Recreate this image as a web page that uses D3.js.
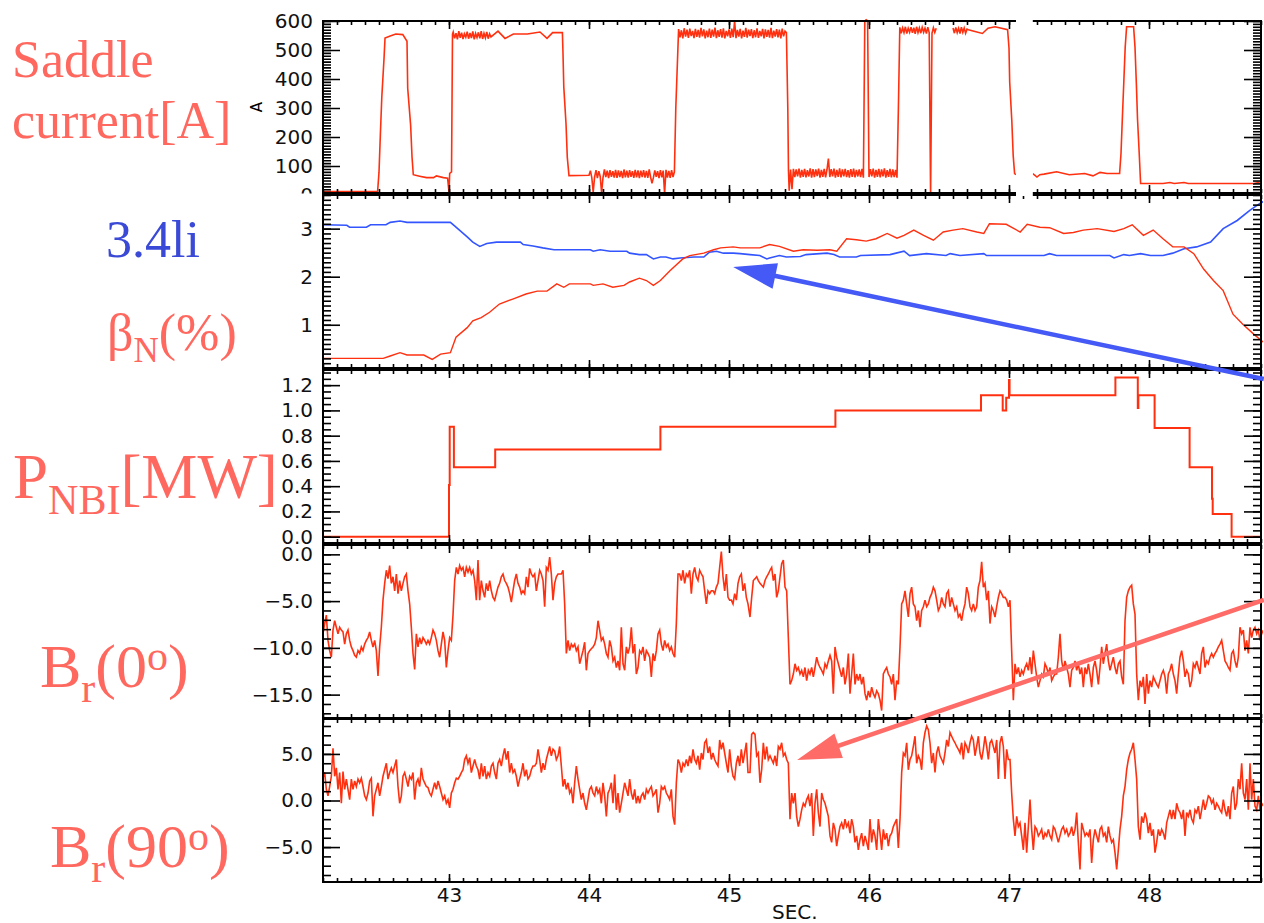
<!DOCTYPE html>
<html><head><meta charset="utf-8">
<script src="https://cdn.jsdelivr.net/npm/d3@7"></script>
<style>body{margin:0;background:#fff}svg{display:block}</style>
</head><body>
<script>
// ---------------- DATA ----------------
// x axis
const xTickValues = [43, 44, 45, 46, 47, 48];
const xTickLabels = ["43", "44", "45", "46", "47", "48"];
const xTitle = "SEC.";

// y tick values per panel
const saddleTicks = [0, 100, 200, 300, 400, 500, 600];
const liTicks = [1, 2, 3];
const nbiTicks = [0, 0.2, 0.4, 0.6, 0.8, 1.0, 1.2];
const br0Ticks = [0, -5, -10, -15];
const br90Ticks = [-5, 0, 5];

// Saddle current [A]: [time, A] pieces and densely sampled noisy pieces (step 0.01 s)
const saddleP1 = [[42.1,12],[42.49,12],[42.5,78],[42.51,212],[42.52,337],[42.536,472],[42.543,541],[42.58,548],[42.62,555],[42.67,553],[42.70,530],[42.705,368],[42.726,240],[42.736,130],[42.745,70],[42.79,65],[42.84,60],[42.89,60],[42.91,66],[42.96,60],[42.99,58],[43.0,10],[43.005,75],[43.018,80],[43.025,555]];
const saddleN1 = [562,540,558,537,565,542,560,538,556,544,563,539,559,541,564,537,557,543,561,540,565,538,558,542,562,539,556,545];
const saddleP2 = [[43.35,565],[43.40,540],[43.46,555],[43.56,555],[43.65,562],[43.70,540],[43.74,560],[43.81,560],[43.814,493],[43.82,372],[43.836,244],[43.845,130],[43.857,67],[44.0,68]];
const saddleN2 = [84,60,10,62,86,58,82,64,8,60,88,62,84,58,86,63,82,60,87,59,85,62,83,58,88,61,84,60,86,63,82,59,87,61,85,58,84,62,86,60,83,59,88,62,40,60,85,63,82,58,86,61,84,5,87,60,83,59,86,62,80];
const saddleP3 = [[44.62,300]];
const saddleN3 = [572,544,568,540,575,546,570,542,574,548,566,541,573,545,569,543,576,547,571,540,567,544,574,542,570,546,577,541,568,545,572,543,575,540,566,547,571,542,574,544,600,541,569,546,573,540,567,545,576,543,570,548,572,541,568,544,575,542,566,547,573,540,571,545,569,543,576,541,567,546,572,544,570,540,574,547,565];
const saddleP4 = [[45.41,560],[45.42,300],[45.425,80]];
const saddleN4 = [15,88,20,90,62,88,64,91,60,87,63,90,61,86,64,92,60,89,62,88,65,91,60,87,63,90,61,88,126,62,89,64,91,60,87,63,92,61,88,64,90,62,86,60,89,63,91,61,87,64,88,62,90,60,600,604,600,62,89,64,91,60,87,63,90,61,88,64,92,60,86,63,90,61,88,62,87,60];
const saddleP5 = [[46.21,300]];
const saddleN5 = [578,558,576,560,580,557,575,561,579,559,577,556,580,560,576,558,578,561,575,557,579,560,0,558,577,561,575];
const saddleN6 = [576,558,578,560,575,557,579,561,576,558,572];
const saddleP6 = [[46.71,570],[46.75,565],[46.81,557],[46.85,575],[46.9,580],[46.99,570],[47.0,507],[47.005,389],[47.02,257],[47.03,136],[47.04,74],[47.05,70]];
const saddleGap = [47.05, 47.17];
const saddleP7 = [[47.17,74],[47.2,62],[47.22,70],[47.25,72],[47.34,80],[47.43,70],[47.54,74],[47.6,66],[47.65,78],[47.7,74],[47.79,74],[47.8,143],[47.81,269],[47.82,389],[47.83,510],[47.84,580],[47.89,580],[47.9,510],[47.91,380],[47.918,262],[47.93,145],[47.94,40],[48.1,40],[48.15,43],[48.18,40],[48.25,43],[48.28,40],[48.75,40],[48.78,43],[48.8,40]];

// 3.4 li (blue) and beta_N (%) (red): [time, value]
const li34 = [[42.10,3.08],[42.27,3.07],[42.29,3.03],[42.41,3.03],[42.44,3.08],[42.55,3.08],[42.58,3.13],[42.65,3.16],[42.70,3.13],[43.01,3.13],[43.05,3.03],[43.13,2.83],[43.17,2.72],[43.22,2.63],[43.27,2.69],[43.34,2.72],[43.51,2.72],[43.53,2.67],[43.60,2.64],[43.67,2.60],[43.75,2.56],[44.01,2.56],[44.03,2.53],[44.08,2.56],[44.15,2.53],[44.27,2.53],[44.29,2.49],[44.36,2.46],[44.41,2.46],[44.46,2.37],[44.51,2.41],[44.55,2.41],[44.60,2.37],[44.65,2.39],[44.75,2.41],[44.82,2.41],[44.86,2.51],[44.91,2.53],[44.96,2.49],[45.03,2.49],[45.08,2.48],[45.15,2.46],[45.22,2.44],[45.27,2.37],[45.29,2.39],[45.36,2.44],[45.41,2.41],[45.51,2.42],[45.55,2.46],[45.70,2.49],[45.75,2.46],[45.79,2.41],[45.91,2.41],[45.94,2.44],[46.15,2.46],[46.25,2.53],[46.29,2.44],[46.41,2.48],[46.55,2.44],[46.58,2.48],[46.65,2.44],[46.82,2.48],[46.84,2.44],[47.25,2.44],[47.29,2.48],[47.34,2.44],[47.72,2.44],[47.75,2.39],[47.82,2.46],[47.86,2.44],[47.94,2.48],[48.01,2.44],[48.10,2.44],[48.17,2.49],[48.25,2.58],[48.34,2.62],[48.44,2.72],[48.53,3.0],[48.63,3.17],[48.72,3.38],[48.79,3.52],[48.82,3.57]];
const betaN = [[42.10,0.30],[42.53,0.30],[42.58,0.35],[42.65,0.42],[42.70,0.37],[42.82,0.37],[42.88,0.28],[42.94,0.39],[43.01,0.42],[43.05,0.74],[43.13,0.94],[43.17,1.08],[43.23,1.15],[43.29,1.26],[43.36,1.43],[43.46,1.54],[43.55,1.64],[43.63,1.70],[43.70,1.70],[43.77,1.85],[43.82,1.78],[43.86,1.85],[44.01,1.85],[44.03,1.82],[44.10,1.85],[44.17,1.78],[44.25,1.82],[44.29,1.89],[44.36,1.97],[44.41,1.92],[44.46,1.82],[44.51,1.92],[44.58,2.13],[44.67,2.37],[44.72,2.44],[44.82,2.49],[44.89,2.56],[44.94,2.60],[45.03,2.62],[45.08,2.60],[45.22,2.60],[45.29,2.67],[45.36,2.63],[45.46,2.53],[45.53,2.56],[45.63,2.55],[45.72,2.56],[45.77,2.53],[45.84,2.79],[45.91,2.77],[45.98,2.74],[46.05,2.79],[46.13,2.90],[46.20,2.80],[46.25,2.86],[46.32,2.97],[46.39,2.86],[46.46,2.76],[46.53,2.93],[46.60,2.97],[46.67,3.0],[46.77,2.93],[46.82,2.90],[46.86,3.10],[46.98,3.09],[47.08,2.93],[47.13,3.09],[47.22,3.03],[47.29,3.02],[47.39,2.90],[47.46,2.92],[47.53,2.97],[47.63,3.0],[47.75,2.94],[47.82,3.0],[47.88,3.08],[47.96,2.86],[48.03,2.97],[48.10,2.79],[48.17,2.62],[48.25,2.62],[48.32,2.48],[48.39,2.16],[48.46,1.92],[48.53,1.71],[48.60,1.22],[48.67,1.01],[48.75,0.80],[48.82,0.63]];

// P_NBI [MW] step trace: [time, MW] (value holds until next time)
const pnbi = [[42.1,0],[43.0,0.41],[43.005,0.87],[43.035,0.55],[43.33,0.69],[44.51,0.87],[45.76,1.0],[46.8,1.12],[46.955,1.0],[46.98,1.1],[47.0,1.24],[47.004,1.12],[47.76,1.26],[47.92,1.02],[47.924,1.12],[48.04,0.86],[48.29,0.55],[48.45,0.3],[48.455,0.18],[48.59,0.0],[48.8,0.0]];

// Br(0) and Br(90): uniformly sampled (step 1/84 s), two pieces each
const brStep = 1 / 84;
const br0Start = [42.1, 45.15];
const br0A = [-8.5,-7.4,-6.5,-9.2,-10.3,-11.0,-8.1,-7.1,-7.8,-8.5,
-7.8,-8.1,-8.3,-9.6,-8.5,-8.1,-9.2,-9.9,-10.3,-10.8,
-11.0,-10.3,-10.6,-9.9,-10.3,-9.6,-9.2,-8.9,-8.3,-9.2,
-9.9,-9.2,-10.3,-13.0,-9.9,-7.8,-4.9,-3.1,-1.7,-2.6,
-1.2,-3.1,-2.4,-3.9,-2.1,-4.2,-2.8,-3.9,-3.1,-2.4,
-2.1,-3.9,-5.3,-7.8,-10.6,-12.3,-8.5,-9.9,-8.9,-9.6,
-8.9,-9.2,-9.6,-9.2,-9.6,-8.9,-8.1,-8.5,-9.2,-10.3,
-11.0,-9.6,-8.3,-9.2,-12.1,-10.3,-8.9,-9.2,-6.5,-2.8,
-1.4,-2.1,-1.2,-1.7,-1.4,-2.4,-1.4,-1.9,-1.4,-2.1,
-1.7,-2.8,-4.9,-0.6,-4.9,-2.8,-3.9,-4.6,-3.1,-3.9,
-2.8,-3.9,-4.6,-4.9,-4.2,-3.5,-3.1,-2.4,-2.1,-2.8,
-3.1,-3.5,-4.2,-5.1,-3.9,-2.8,-2.1,-3.1,-3.5,-4.2,
-3.9,-4.2,-2.4,-3.5,-1.5,-2.1,-2.4,-2.1,-3.9,-2.8,
-1.7,-2.1,-2.8,-5.6,-1.4,-1.7,-0.3,-2.1,-4.9,-3.1,
-2.4,-2.1,-2.1,-2.1,-1.7,-5.3,-10.6,-9.2,-10.3,-9.6,
-9.9,-9.6,-10.3,-9.9,-11.7,-11.0,-10.3,-9.4,-12.4,-10.6,
-10.3,-10.1,-9.9,-9.6,-8.9,-7.1,-8.1,-9.2,-8.9,-9.6,
-10.6,-11.0,-9.2,-9.9,-11.4,-11.0,-12.1,-11.4,-12.4,-7.8,
-11.7,-12.4,-9.9,-10.6,-9.9,-7.8,-10.6,-9.6,-12.8,-12.1,
-10.3,-10.6,-9.9,-11.4,-10.3,-10.6,-11.0,-13.1,-10.6,-11.4,
-10.3,-8.5,-8.1,-9.6,-10.3,-9.2,-9.9,-9.6,-10.3,-9.9,
-10.6,-11.0,-7.4,-2.1,-2.1,-2.8,-1.7,-3.1,-2.1,-2.4,
-1.7,-4.2,-2.1,-1.4,-2.4,-2.8,-1.7,-2.1,-2.4,-3.9,
-5.3,-3.9,-4.2,-3.9,-3.9,-4.2,-3.5,-3.1,-1.4,0.3,
-2.4,-3.9,-2.1,-4.6,-4.9,-4.9,-5.3,-4.2,-4.9,-3.1,
-2.4,-2.1,-3.9,-3.1,-4.6,-5.3];
const br0B = [-6.7,-4.6,-2.8,-2.6,-2.4,-2.8,-3.1,-3.3,-3.5,-2.8,
-2.4,-2.1,-1.7,-1.4,-2.8,-2.1,-4.6,-3.9,-2.4,-1.0,
-0.6,-3.5,-3.9,-8.9,-13.9,-13.5,-12.8,-11.7,-12.4,-12.1,
-12.8,-12.4,-13.1,-12.1,-13.5,-12.4,-12.8,-12.1,-13.1,-12.1,
-11.0,-11.7,-12.1,-12.4,-12.8,-11.7,-12.1,-11.4,-10.8,-11.4,
-14.9,-9.9,-11.0,-11.7,-12.4,-13.1,-12.1,-13.9,-12.8,-10.6,
-14.9,-12.8,-10.6,-13.9,-12.8,-13.5,-12.8,-13.9,-13.1,-14.9,
-15.6,-14.6,-15.3,-14.2,-14.9,-15.3,-14.6,-14.9,-15.6,-16.7,
-12.8,-12.4,-12.1,-12.8,-13.1,-13.9,-12.8,-15.6,-13.5,-13.9,
-9.9,-5.3,-4.9,-3.9,-5.3,-6.7,-4.2,-3.5,-5.3,-5.6,
-7.1,-6.0,-7.8,-6.0,-5.6,-4.9,-5.6,-5.3,-4.6,-4.2,
-3.5,-3.9,-4.9,-6.0,-5.6,-4.6,-5.3,-5.6,-4.2,-3.9,
-5.6,-4.6,-5.3,-6.0,-5.6,-6.7,-6.4,-7.1,-6.0,-5.3,
-3.5,-4.2,-5.6,-6.0,-5.3,-6.0,-5.6,-3.5,-2.8,-0.8,
-3.5,-3.1,-4.9,-3.9,-7.4,-5.6,-6.0,-6.7,-5.6,-4.6,
-3.9,-4.2,-4.6,-4.6,-4.9,-5.6,-4.9,-10.3,-15.6,-11.7,
-12.8,-12.1,-13.1,-12.4,-12.8,-12.1,-11.7,-12.4,-11.0,-12.8,
-10.3,-11.7,-13.1,-14.2,-13.5,-12.8,-13.1,-11.7,-12.1,-12.8,
-12.1,-13.5,-13.1,-12.8,-12.8,-11.0,-8.5,-11.4,-12.4,-11.4,
-12.1,-12.8,-14.2,-12.4,-12.1,-11.4,-12.4,-11.7,-12.8,-12.1,
-14.2,-12.1,-12.8,-11.7,-12.8,-14.2,-12.1,-11.4,-12.4,-13.9,
-12.1,-9.9,-11.7,-10.6,-9.6,-11.4,-12.4,-11.7,-11.0,-12.1,
-12.8,-11.7,-11.4,-13.1,-13.9,-7.1,-4.6,-3.9,-3.5,-3.3,
-5.3,-6.4,-12.8,-15.6,-13.5,-14.2,-13.1,-16.0,-12.8,-14.9,
-13.5,-14.2,-13.1,-13.5,-13.9,-14.2,-13.5,-12.8,-12.4,-13.1,
-14.9,-12.8,-12.4,-11.7,-12.8,-13.5,-14.9,-12.8,-11.0,-10.3,
-11.4,-13.1,-12.4,-12.8,-14.2,-13.5,-11.7,-12.1,-11.4,-12.1,
-12.8,-10.6,-9.9,-12.1,-11.4,-11.7,-11.0,-10.6,-11.0,-10.6,
-10.3,-9.9,-9.6,-9.2,-10.3,-11.4,-11.7,-12.1,-12.4,-10.6,
-10.3,-11.4,-12.1,-11.0,-7.8,-8.5,-8.1,-10.3,-9.2,-10.6,
-7.8,-8.9,-8.1,-7.8,-8.5,-8.1,-9.2,-8.5,-8.1];
const br90Start = [42.1, 45.15];
const br90A = [2.4,3.0,1.2,0.5,1.5,2.6,5.6,2.6,3.5,1.2,
3.0,-0.3,3.1,1.2,2.3,1.2,0.1,2.3,1.2,2.1,
1.5,2.3,1.9,2.4,1.5,0.5,0.1,0.8,2.1,2.4,
-1.7,0.5,1.2,1.9,0.5,1.5,2.6,3.3,4.0,2.3,
3.0,3.5,3.0,3.7,4.4,1.5,-0.3,0.5,2.6,3.0,
2.3,1.5,2.6,2.3,3.0,0.1,1.9,2.3,1.5,3.5,
2.3,1.9,1.5,1.4,0.8,0.5,1.2,1.9,1.2,2.1,
1.5,0.8,0.1,0.5,-0.3,0.1,-0.8,0.8,1.2,1.9,
2.4,2.3,2.6,3.0,3.3,4.4,4.8,4.0,4.6,3.0,
3.7,4.4,3.7,3.3,2.3,4.0,2.6,3.7,2.3,3.0,
2.6,3.7,4.0,3.0,2.3,4.0,4.4,3.7,4.8,5.6,
4.4,5.3,3.0,4.0,3.0,3.3,2.6,1.5,2.3,3.0,
4.0,2.6,3.3,2.3,2.6,3.3,3.7,3.7,4.0,5.5,
4.4,3.0,4.0,3.3,4.4,5.1,5.8,4.8,5.5,5.3,
4.4,4.8,5.8,3.7,1.5,2.3,1.2,1.9,0.8,1.2,
-0.3,1.9,3.7,2.3,1.2,0.1,0.8,-0.3,-1.0,0.1,
1.2,1.5,0.8,0.5,1.5,0.8,1.2,-0.3,1.9,0.5,
-1.7,0.8,1.2,1.9,-0.3,2.8,-1.0,0.8,-1.3,-0.3,
0.8,1.9,1.2,0.5,2.3,0.8,0.1,1.2,-0.3,0.5,
-0.3,0.5,0.8,0.1,1.2,0.8,1.2,1.5,0.5,0.8,
1.2,-1.3,-0.3,1.5,1.2,1.5,0.8,0.5,0.1,1.2,
-1.7,-2.6,1.9,4.4,4.0,3.0,4.0,3.7,4.4,3.7,
4.8,4.0,5.5,4.4,4.0,4.8,3.3,5.1,4.4,6.2,
6.5,5.1,5.8,4.4,5.1,4.4,4.0,3.7,6.5,5.5,
6.2,5.1,4.0,3.0,5.5,3.7,2.6,2.3,4.0,4.8,
3.7,5.5,4.0,5.1,6.2,3.0];
const br90B = [3.0,7.1,7.3,7.1,4.8,5.1,1.9,3.3,6.2,4.4,
5.8,4.4,4.8,4.4,4.0,4.8,3.7,5.8,5.5,6.2,
4.8,5.1,4.4,4.0,-2.0,0.8,-0.3,0.8,-1.7,-2.8,
-2.0,-1.0,-0.3,-0.6,0.1,0.5,-0.6,0.8,-3.8,-0.3,
1.2,-1.3,-2.8,0.8,0.1,-0.3,-1.0,-1.7,-3.8,-4.5,
-2.4,-3.1,-4.9,-3.8,-2.8,-2.4,-3.1,-2.0,-2.8,-2.4,
-3.5,-2.0,-2.8,-4.5,-3.8,-5.3,-4.2,-3.5,-4.9,-3.8,
-4.5,-5.3,-2.0,-4.5,-3.1,-3.8,-5.3,-2.0,-3.5,-5.3,
-3.1,-4.2,-3.5,-4.9,-3.8,-3.5,-2.8,-2.4,-2.0,-5.1,
-2.0,3.0,5.1,4.8,6.2,3.3,4.4,4.8,5.8,6.9,
4.0,4.8,4.4,3.3,6.2,7.3,8.0,7.6,6.2,4.0,
5.1,3.0,5.1,5.8,4.8,4.4,4.0,5.1,6.5,5.8,
7.3,6.9,6.5,6.2,5.8,5.5,5.1,6.2,4.4,6.2,
5.8,5.1,6.2,6.9,6.5,4.8,5.8,6.9,5.1,4.4,
5.5,6.9,5.8,4.4,6.2,6.5,5.8,5.1,6.5,2.3,
6.2,6.9,5.8,2.3,5.5,4.4,4.4,0.8,-2.0,-3.8,
-1.7,-2.8,-2.4,-3.8,-5.3,-2.4,-5.6,-2.8,0.1,-3.1,
-5.3,-2.8,-3.1,-3.8,-3.5,-3.1,-4.2,-3.5,-3.8,-3.1,
-3.8,-4.2,-2.8,-3.1,-3.8,-4.5,-3.8,-3.1,-2.8,-3.5,
-3.1,-3.8,-3.5,-2.8,-3.8,-3.1,-1.3,-4.5,-7.4,-2.4,
-3.1,-3.8,-3.5,-3.8,-3.1,-6.7,-4.2,-3.1,-3.8,-4.5,
-3.1,-2.8,-3.8,-3.5,-4.5,-2.8,-3.8,-4.5,-4.2,-5.6,
-7.4,-5.3,-3.1,-1.7,0.5,1.5,3.3,4.4,5.1,5.5,
6.2,4.4,2.3,-2.8,-4.2,-1.7,-2.4,-1.3,-2.0,-3.5,
-2.4,-3.8,-3.1,-5.6,-4.5,-3.1,-3.8,-3.1,-3.5,-4.2,
-2.4,-1.7,-1.0,-2.0,-1.0,-2.0,-0.3,-1.0,-1.3,-2.0,
-1.0,-3.8,-1.3,-1.7,-1.0,-2.0,-2.4,-1.0,-1.3,-0.6,
-2.0,-1.0,0.1,-1.0,-0.3,0.5,0.3,-0.3,0.1,-1.0,
-0.3,-0.6,-1.0,-1.3,0.1,-1.0,-1.7,-0.6,-2.0,0.8,
1.5,-1.0,-0.3,2.3,1.2,4.0,0.8,0.1,2.3,-1.0,
4.0,0.1,2.3,-0.6,-1.0,0.5,-1.0,-0.3,-0.6];

// annotation arrows (tail -> tip) in data units of the panel named
const blueArrow = [[48.82, -0.13], [45.03, 2.20]];   // in 3.4li / beta_N panel units
const pinkArrow = [[48.82, 21.53], [45.486, 4.35]];  // in Br(90) panel units

// ---------------- DRAWING ----------------
const W = 1264, H = 923;
const RED = "#ff3010", BLUE = "#3355ff", SALMON = "#ff685f";
const TICKFONT = "'DejaVu Sans', sans-serif";
const SERIF = "'Liberation Serif','Times New Roman',serif";

const svg = d3.select("body").append("svg").attr("width", W).attr("height", H);
const x = d3.scaleLinear().domain([42.1, 48.8]).range([323, 1261]);
const seg = (t0, dt, vals) => vals.map((v, i) => [t0 + i * dt, v]);
const fmt1 = d => (d < 0 ? "\u2212" : "") + Math.abs(d).toFixed(1);

const saddle = [].concat(saddleP1, seg(43.03, 0.01, saddleN1), saddleP2, seg(44.01, 0.01, saddleN2),
  saddleP3, seg(44.64, 0.01, saddleN3), saddleP4, seg(45.43, 0.01, saddleN4), saddleP5,
  seg(46.22, 0.01, saddleN5), [null], seg(46.60, 0.01, saddleN6), saddleP6, [null], saddleP7);
const br0 = seg(br0Start[0], brStep, br0A).concat(seg(br0Start[1], brStep, br0B));
const br90 = seg(br90Start[0], brStep, br90A).concat(seg(br90Start[1], brStep, br90B));

const panels = [
  {top: 21, bottom: 193, domain: [7, 600], major: saddleTicks, minor: d3.range(10, 601, 10), fmt: d => String(d), clipLabels: true,
   series: [{data: saddle, color: RED, w: 1.6}]},
  {top: 195, bottom: 368, domain: [0.1, 3.7], major: liTicks, minor: d3.range(1, 38).map(i => i / 10), fmt: d => String(d),
   series: [{data: li34, color: BLUE, w: 1.6}, {data: betaN, color: RED, w: 1.4}]},
  {top: 370, bottom: 543, domain: [-0.05, 1.32], major: nbiTicks, minor: d3.range(0, 27).map(i => i * 0.05), fmt: fmt1,
   series: [{data: pnbi, color: RED, w: 2, step: true}]},
  {top: 545, bottom: 718, domain: [-17.5, 1], major: br0Ticks, minor: d3.range(-17, 1), fmt: fmt1,
   series: [{data: br0, color: RED, w: 1.6}]},
  {top: 719, bottom: 882, domain: [-8.75, 8.75], major: br90Ticks, minor: d3.range(-8, 9), fmt: fmt1, xLabels: true,
   series: [{data: br90, color: RED, w: 1.6}]}
];

const defs = svg.append("defs");
const xMinor = d3.range(421, 489).map(i => i / 10);
const x0 = x.range()[0], x1 = x.range()[1];

panels.forEach((p, i) => {
  p.y = d3.scaleLinear().domain(p.domain).range([p.bottom, p.top]);
  const y = p.y;
  defs.append("clipPath").attr("id", "clip" + i).append("rect")
    .attr("x", x0).attr("y", p.top - 4).attr("width", x1 - x0 + 2).attr("height", p.bottom - p.top + 8);

  // traces
  const gData = svg.append("g").attr("clip-path", `url(#clip${i})`);
  p.series.forEach(s => {
    const ln = d3.line().defined(d => d !== null).x(d => x(d[0])).y(d => y(d[1]));
    if (s.step) ln.curve(d3.curveStepAfter);
    gData.append("path").datum(s.data).attr("d", ln).attr("fill", "none")
      .attr("stroke", s.color).attr("stroke-width", s.w).attr("stroke-linejoin", "miter");
  });

  // axes
  const gAx = svg.append("g");
  const left = gAx.append("g").attr("transform", `translate(${x0},0)`);
  if (p.clipLabels) {
    defs.append("clipPath").attr("id", "lclip" + i).append("rect")
      .attr("x", -x0).attr("y", 0).attr("width", W).attr("height", p.bottom + 0.5);
    left.attr("clip-path", `url(#lclip${i})`);
  }
  left.append("g").call(d3.axisLeft(y).tickValues(p.minor).tickSize(-8).tickSizeOuter(0).tickFormat(""));
  left.append("g").call(d3.axisLeft(y).tickValues(p.major).tickSize(-17).tickSizeOuter(0).tickPadding(10).tickFormat(p.fmt));
  const right = gAx.append("g").attr("transform", `translate(${x1},0)`);
  right.append("g").call(d3.axisRight(y).tickValues(p.minor.filter(v => v >= p.domain[0] && v <= p.domain[1])).tickSize(-8).tickSizeOuter(0).tickFormat(""));
  right.append("g").call(d3.axisRight(y).tickValues(p.major.filter(v => v >= p.domain[0] && v <= p.domain[1])).tickSize(-17).tickSizeOuter(0).tickFormat(""));
  const topAx = gAx.append("g").attr("transform", `translate(0,${p.top})`);
  topAx.append("g").call(d3.axisTop(x).tickValues(xMinor).tickSize(-4).tickSizeOuter(0).tickFormat(""));
  topAx.append("g").call(d3.axisTop(x).tickValues(xTickValues).tickSize(-8).tickSizeOuter(0).tickFormat(""));
  const botAx = gAx.append("g").attr("transform", `translate(0,${p.bottom})`);
  botAx.append("g").call(d3.axisBottom(x).tickValues(xMinor).tickSize(-4).tickSizeOuter(0).tickFormat(""));
  botAx.append("g").call(d3.axisBottom(x).tickValues(xTickValues).tickSize(-8).tickSizeOuter(0).tickPadding(6)
    .tickFormat(p.xLabels ? ((d, k) => xTickLabels[k]) : ""));
  gAx.selectAll(".domain").remove();
  gAx.selectAll(".tick line").attr("stroke", "#000").attr("stroke-width", 1.6);
  gAx.selectAll("text").attr("font-family", TICKFONT).attr("font-size", 20).attr("fill", "#111");

  // frame
  svg.append("rect").attr("x", x0).attr("y", p.top).attr("width", x1 - x0).attr("height", p.bottom - p.top)
    .attr("fill", "none").attr("stroke", "#000").attr("stroke-width", 2);
});

// white break in the top panel (data gap)
svg.append("rect").attr("x", x(saddleGap[0])).attr("y", 12)
  .attr("width", x(saddleGap[1]) - x(saddleGap[0])).attr("height", panels[0].bottom + 3 - 12).attr("fill", "#fff");

// y unit title of the top panel
svg.append("text").attr("transform", `translate(262,${(panels[0].top + panels[0].bottom) / 2}) rotate(-90)`)
  .attr("text-anchor", "middle").attr("font-family", TICKFONT).attr("font-size", 15).text("A");

// x title
svg.append("text").attr("x", 772).attr("y", 919).attr("font-family", TICKFONT).attr("font-size", 20).attr("fill", "#111").text(xTitle);

// left labels
function label(xp, yp, size, color, parts) {
  const t = svg.append("text").attr("x", xp).attr("y", yp).attr("font-family", SERIF)
    .attr("font-size", size).attr("fill", color);
  parts.forEach(pt => {
    const ts = t.append("tspan").text(pt.t);
    if (pt.s) ts.attr("font-size", pt.s);
    if (pt.dy) ts.attr("dy", pt.dy);
  });
}
label(12, 77, 52, SALMON, [{t: "Saddle"}]);
label(12, 138, 52, SALMON, [{t: "current[A]"}]);
label(106, 257, 52, "#3a4ad6", [{t: "3.4li"}]);
label(107, 350, 52, SALMON, [{t: "\u03b2"}, {t: "N", s: 35, dy: 12}, {t: "(%)", dy: -12}]);
label(13, 498, 63, SALMON, [{t: "P"}, {t: "NBI", s: 42, dy: 16}, {t: "[MW]", dy: -16}]);
label(40, 687, 62, SALMON, [{t: "B"}, {t: "r", s: 42, dy: 15}, {t: "(0", dy: -15}, {t: "o", s: 42, dy: -17}, {t: ")", dy: 17}]);
label(50, 867, 62, SALMON, [{t: "B"}, {t: "r", s: 42, dy: 15}, {t: "(90", dy: -15}, {t: "o", s: 42, dy: -17}, {t: ")", dy: 17}]);

// arrows
function arrow(yScale, pts, color, sw, headL, headHW) {
  const xa = x(pts[0][0]), ya = yScale(pts[0][1]), xb = x(pts[1][0]), yb = yScale(pts[1][1]);
  const dx = xa - xb, dy = ya - yb, L = Math.hypot(dx, dy), ux = dx / L, uy = dy / L;
  const bx = xb + ux * headL, by = yb + uy * headL;
  svg.append("line").attr("x1", xa).attr("y1", ya).attr("x2", bx - ux * 2).attr("y2", by - uy * 2)
    .attr("stroke", color).attr("stroke-width", sw);
  svg.append("path").attr("d", `M${xb},${yb}L${bx - uy * headHW},${by + ux * headHW}L${bx + uy * headHW},${by - ux * headHW}Z`)
    .attr("fill", color);
}
arrow(panels[1].y, blueArrow, "#4459f5", 4.5, 43, 13);
arrow(panels[4].y, pinkArrow, "#ff6b66", 4.5, 44, 13);
</script>
</body></html>
